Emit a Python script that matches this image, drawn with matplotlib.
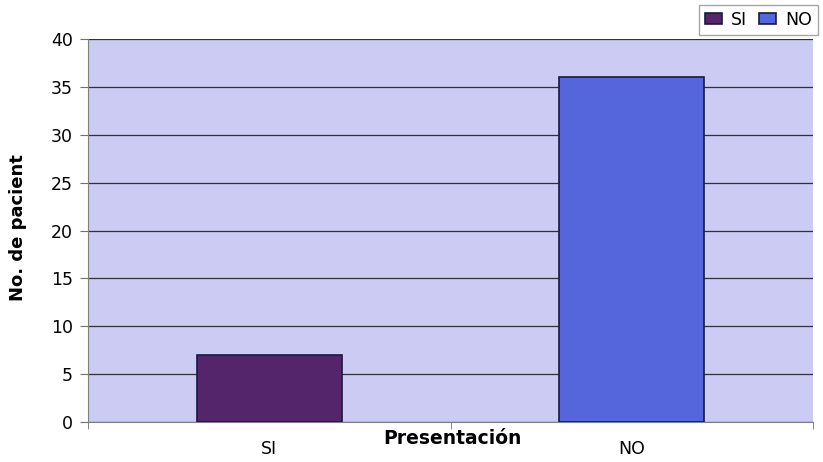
import matplotlib; matplotlib.use("Agg")
import matplotlib.pyplot as plt
import numpy as np

categories = ["SI", "NO"]
values = [7, 36]
colors = ["#55256b", "#5565dc"]

plt.rcParams["font.family"] = ["DejaVu Sans"]

fig = plt.figure(figsize=(8.23, 4.62), dpi=100)
ax = fig.add_axes([88/823, 1 - 422/462, (813-88)/823, (422-39)/462])
ax.set_facecolor("#cbcbf3")

x = np.arange(len(categories))
for i, (c, v, col) in enumerate(zip(categories, values, colors)):
    ax.bar(x[i], v, width=0.4, color=col, edgecolor="#1a1a40", linewidth=1.2, label=c, zorder=3)

ax.set_xlim(-0.5, len(categories) - 0.5)
ax.set_ylim(0, 40)
ax.set_yticks(range(0, 41, 5))
ax.yaxis.grid(True, color="#303040", linewidth=0.9, zorder=1)
ax.set_xticks(x)
ax.set_xticklabels(categories, fontsize=12.5)
ax.tick_params(axis="x", length=0, pad=13)
ax.set_xticks([-0.5, 0.5, 1.5], minor=True)
ax.tick_params(axis="x", which="minor", length=5, color="#707070")
ax.tick_params(axis="y", labelsize=12.5, length=6, color="#707070", pad=5)

for s in ["top", "right"]:
    ax.spines[s].set_visible(False)
for s in ["left", "bottom"]:
    ax.spines[s].set_color("#808080")

fig.text(452/823, 1 - 439/462, "Presentación", ha="center", va="center", fontsize=13.5, fontweight="bold")
fig.text(18/823, 1 - 228/462, "No. de pacient", ha="center", va="center", rotation=90, fontsize=13, fontweight="bold")

ax.legend(loc="upper right", bbox_to_anchor=(818/823, 457/462), bbox_transform=fig.transFigure,
          ncol=2, fontsize=12.5, frameon=True, fancybox=False, edgecolor="#909090",
          handlelength=1.0, handleheight=0.6, handletextpad=0.5, columnspacing=0.7,
          borderpad=0.35, borderaxespad=0)

fig.savefig("out.png", dpi=100)
